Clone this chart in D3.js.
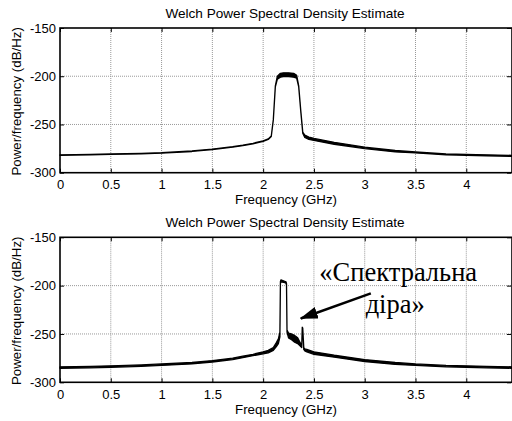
<!DOCTYPE html>
<html>
<head>
<meta charset="utf-8">
<script src="https://cdn.jsdelivr.net/npm/d3@7"></script>
<style>
  body { margin: 0; background: #fff; }
  text { font-family: "Liberation Sans", Arial, sans-serif; }
</style>
</head>
<body>
<svg id="chart" width="512" height="421"></svg>
<script>
// axis ticks
const xTicks = [0, 0.5, 1, 1.5, 2, 2.5, 3, 3.5, 4];
const yTicks = [-300, -250, -200, -150];

// top: spectrum with the signal band (GHz, dB/Hz upper edge, trace thickness dB)
const topFreq = [0, 0.3, 0.5, 0.8, 1.0, 1.3, 1.5, 1.7, 1.8, 1.9, 2.0, 2.05, 2.08, 2.1, 2.12, 2.14, 2.17, 2.2, 2.25, 2.3, 2.33, 2.35, 2.37, 2.39, 2.41, 2.45, 2.5, 2.7, 3.0, 3.3, 3.5, 3.8, 4.0, 4.2, 4.45];
const topHi   = [-281.5, -281, -280.5, -280, -279.3, -277.5, -275.5, -273, -271.5, -269.5, -267, -265, -262, -245, -210, -200, -197, -196.5, -196.5, -197, -199, -210, -235, -258, -261, -263, -264.5, -268.5, -273.5, -277, -278.5, -280.5, -281, -281.5, -282];
const topSpread = [0.5, 0.5, 0.5, 0.5, 0.5, 0.5, 0.5, 0.5, 0.5, 0.5, 0.5, 0.5, 0.5, 0.5, 1, 3, 4, 4, 4, 4, 3, 1, 1, 1, 2.5, 2.5, 2, 2, 1.5, 1.5, 1, 1, 1, 1, 1];

// bottom: spectrum with the "hole"
const botFreq = [0, 0.3, 0.5, 0.8, 1.0, 1.3, 1.5, 1.7, 1.8, 1.9, 2.0, 2.05, 2.1, 2.13, 2.15, 2.165, 2.17, 2.175, 2.2, 2.225, 2.23, 2.235, 2.25, 2.28, 2.31, 2.34, 2.36, 2.38, 2.385, 2.39, 2.40, 2.41, 2.43, 2.5, 2.7, 3.0, 3.3, 3.5, 3.8, 4.0, 4.2, 4.45];
const botHi   = [-284, -283.5, -283, -282, -281, -279.5, -277.5, -275, -273, -271, -268.5, -267, -264, -259, -255, -248, -196, -194, -195, -196, -198, -246, -249, -250, -251.5, -254, -258, -262, -243, -244, -264, -265.5, -266, -268.5, -272, -276.5, -279.5, -281, -282.5, -283, -283.5, -284];
const botSpread = [1.5, 1.5, 1.5, 1.5, 1.5, 1.5, 1.5, 1.5, 1.5, 1.5, 2, 2.5, 3, 4, 5, 5, 2, 2, 1.5, 1.5, 1.5, 2, 5, 6, 7, 6, 4, 2, 1, 1, 2, 2, 2.5, 2.5, 2, 2, 2, 1.5, 1.5, 1.5, 1.5, 1.5];

const svg = d3.select('#chart');
svg.append('rect').attr('width', 512).attr('height', 421).attr('fill', '#fff');

const x = d3.scaleLinear().domain([0, 4.45]).range([60, 512]);

function panel(top, bottom, titleY, freq, hi, spread) {
    const y = d3.scaleLinear().domain([-300, -150]).range([bottom, top]);
    const g = svg.append('g');

    // dotted grid
    g.selectAll('line.gx').data(xTicks.slice(1)).enter().append('line')
        .attr('x1', d => x(d)).attr('x2', d => x(d))
        .attr('y1', top).attr('y2', bottom)
        .attr('stroke', '#999').attr('stroke-dasharray', '1,1');
    g.selectAll('line.gy').data(yTicks.slice(1, 3)).enter().append('line')
        .attr('x1', 60).attr('x2', 512)
        .attr('y1', d => y(d)).attr('y2', d => y(d))
        .attr('stroke', '#999').attr('stroke-dasharray', '1,1');

    // trace
    const pts = freq.map((f, i) => ({f: f, hi: hi[i], lo: hi[i] - spread[i]}));
    const area = d3.area()
        .x(d => x(d.f))
        .y0(d => y(d.lo))
        .y1(d => y(d.hi));
    g.append('path').datum(pts)
        .attr('d', area)
        .attr('fill', '#000').attr('stroke', '#000').attr('stroke-width', 1.3)
        .attr('stroke-linejoin', 'round');

    // axes, MATLAB style inward ticks
    g.append('g').attr('transform', `translate(0,${bottom})`)
        .call(d3.axisBottom(x).tickValues(xTicks).tickSizeInner(-4).tickSizeOuter(0)
              .tickPadding(7).tickFormat(d => String(d)));
    g.append('g').attr('transform', `translate(0,${top})`)
        .call(d3.axisTop(x).tickValues(xTicks).tickSizeInner(-4).tickSizeOuter(0).tickFormat(''));
    g.append('g').attr('transform', 'translate(60,0)')
        .call(d3.axisLeft(y).tickValues(yTicks).tickSizeInner(-4).tickSizeOuter(0)
              .tickPadding(4).tickFormat(d => String(d)));
    g.append('g').attr('transform', 'translate(511,0)')
        .call(d3.axisRight(y).tickValues(yTicks).tickSizeInner(-4).tickSizeOuter(0).tickFormat(''));
    g.selectAll('.domain').remove();
    g.selectAll('.tick line').attr('stroke', '#000');
    g.selectAll('.tick text')
        .style('font-family', '"Liberation Sans", Arial, sans-serif')
        .attr('font-size', 13).attr('fill', '#000');

    // box
    g.append('rect')
        .attr('x', 60).attr('y', top)
        .attr('width', 452).attr('height', bottom - top)
        .attr('fill', 'none').attr('stroke', '#000').attr('stroke-width', 1.6);

    // labels
    g.append('text').attr('x', 285).attr('y', titleY)
        .attr('text-anchor', 'middle').attr('font-size', 13.6)
        .text('Welch Power Spectral Density Estimate');
    g.append('text').attr('x', 286).attr('y', bottom + 31.5)
        .attr('text-anchor', 'middle').attr('font-size', 13.3)
        .text('Frequency (GHz)');
    g.append('text')
        .attr('transform', `translate(20.5,${(top + bottom) / 2 + 1}) rotate(-90)`)
        .attr('text-anchor', 'middle').attr('font-size', 13.3)
        .text('Power/frequency (dB/Hz)');
    return y;
}

panel(28, 172.7, 17.5, topFreq, topHi, topSpread);
const yb = panel(237.3, 382.3, 226.9, botFreq, botHi, botSpread);

// annotation in bottom panel
const serif = '"Liberation Serif", "Times New Roman", serif';
svg.append('text').attr('x', x(3.33)).attr('y', yb(-195))
    .attr('text-anchor', 'middle').style('font-family', serif).attr('font-size', 26.5)
    .text('«Спектральна');
svg.append('text').attr('x', x(3.3)).attr('y', yb(-228.5))
    .attr('text-anchor', 'middle').style('font-family', serif).attr('font-size', 26.5)
    .text('діра»');

svg.append('defs').append('marker')
    .attr('id', 'head').attr('markerUnits', 'userSpaceOnUse')
    .attr('markerWidth', 18).attr('markerHeight', 12)
    .attr('refX', 17).attr('refY', 6).attr('orient', 'auto')
    .append('path').attr('d', 'M0,0 L18,6 L0,12 Z').attr('fill', '#000');
svg.append('line')
    .attr('x1', x(3.06)).attr('y1', yb(-208))
    .attr('x2', x(2.37)).attr('y2', yb(-234))
    .attr('stroke', '#000').attr('stroke-width', 2.5)
    .attr('marker-end', 'url(#head)');
</script>
</body>
</html>
